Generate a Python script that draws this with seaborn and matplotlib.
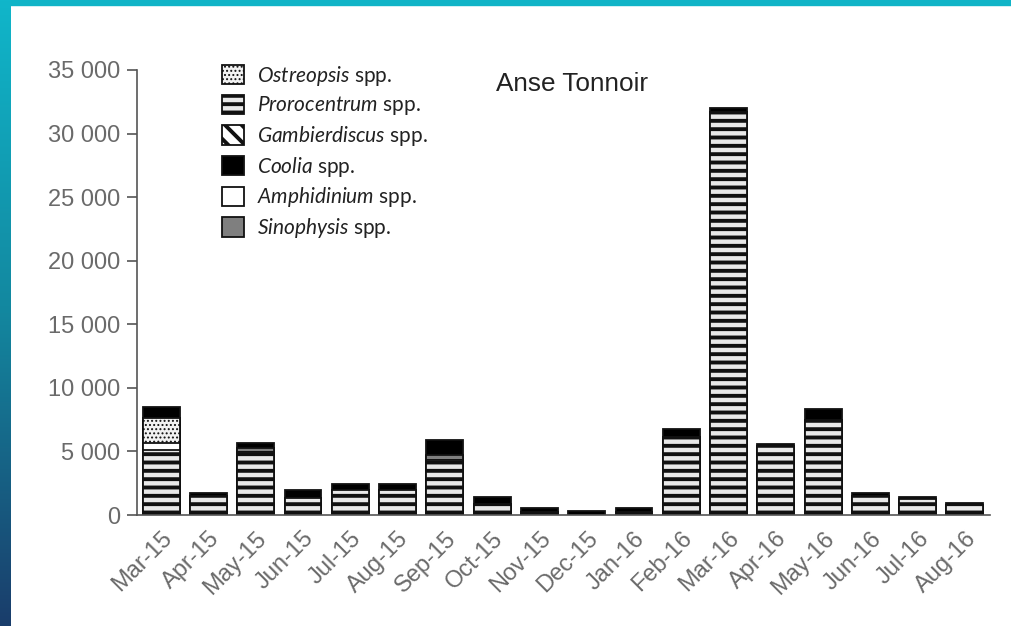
import numpy as np
import pandas as pd
import matplotlib
matplotlib.use("Agg")
import matplotlib.pyplot as plt
import seaborn as sns
from matplotlib.patches import Patch, Rectangle
from matplotlib.ticker import FuncFormatter, MultipleLocator
from matplotlib.colors import LinearSegmentedColormap

months = ["Mar-15", "Apr-15", "May-15", "Jun-15", "Jul-15", "Aug-15", "Sep-15",
          "Oct-15", "Nov-15", "Dec-15", "Jan-16", "Feb-16", "Mar-16", "Apr-16",
          "May-16", "Jun-16", "Jul-16", "Aug-16"]

prorocentrum   = [5100, 1500, 4950, 1350, 1950, 1950, 4300, 900, 250, 0, 250, 6100, 31700, 5400, 7450, 1500, 1250, 800]
amphidinium    = [550, 0, 0, 0, 0, 0, 0, 0, 0, 0, 0, 0, 0, 0, 0, 0, 0, 0]
ostreopsis     = [1970, 0, 0, 0, 0, 0, 0, 0, 0, 0, 0, 0, 0, 0, 0, 0, 0, 0]
gambierdiscus  = [0, 0, 0, 0, 0, 0, 0, 0, 0, 0, 0, 0, 0, 0, 0, 0, 0, 0]
sinophysis     = [0, 0, 350, 0, 0, 0, 400, 0, 0, 0, 0, 0, 0, 0, 0, 0, 0, 0]
coolia         = [870, 230, 360, 620, 490, 490, 1200, 500, 300, 300, 300, 700, 350, 180, 880, 230, 160, 140]

title = "Anse Tonnoir"

sns.set_style("white")
plt.rcParams["font.family"] = ["Liberation Sans", "DejaVu Sans"]
plt.rcParams["mathtext.fontset"] = "custom"
plt.rcParams["mathtext.it"] = "Lato:italic"
plt.rcParams["mathtext.rm"] = "Lato"
plt.rcParams["hatch.linewidth"] = 2.8

fig = plt.figure(figsize=(10.12, 6.26), dpi=100)
fig.patch.set_facecolor("white")

# frame decoration
fig.add_artist(Rectangle((0, 1 - 5 / 626), 1, 5 / 626, transform=fig.transFigure,
                         color="#10b4c7", zorder=0))
gax = fig.add_axes([0, 0, 11 / 1012, 1])
grad = np.linspace(0, 1, 256).reshape(-1, 1)
cmap = LinearSegmentedColormap.from_list("g", ["#10b6ca", "#13879f", "#1a3d6b"])
gax.imshow(grad, aspect="auto", cmap=cmap)
gax.axis("off")

ax = fig.add_axes([137 / 1012, 1 - 515 / 626, (990 - 137) / 1012, (515 - 70) / 626])

DOT_FACE = "#f2f2f2"
layers = [
    ("Prorocentrum", prorocentrum, "#e9e9e9", "--"),
    ("Amphidinium", amphidinium, "white", None),
    ("Ostreopsis", ostreopsis, DOT_FACE, "...."),
    ("Gambierdiscus", gambierdiscus, "white", "\\\\"),
    ("Sinophysis", sinophysis, "#7f7f7f", None),
    ("Coolia", coolia, "black", None),
]


def thin_hatch(patches, h):
    if h == "....":
        for p in patches:
            if hasattr(p, "set_hatch_linewidth"):
                p.set_hatch_linewidth(0.9)


cum = np.zeros(len(months))
cums = []
for name, vals, col, h in layers:
    cum = cum + np.array(vals, dtype=float)
    cums.append((name, cum.copy(), col, h))

for name, c, col, h in reversed(cums):
    df = pd.DataFrame({"month": months, "value": c})
    n_before = len(ax.patches)
    sns.barplot(data=df, x="month", y="value", order=months, color=col,
                saturation=1, width=0.78, edgecolor="#111111", linewidth=1.3,
                hatch=h, ax=ax, errorbar=None)
    thin_hatch(ax.patches[n_before:], h)

ax.set_xlim(-0.51, 17.53)
ax.set_ylim(0, 35000)
ax.yaxis.set_major_locator(MultipleLocator(5000))
ax.yaxis.set_major_formatter(FuncFormatter(lambda v, p: f"{int(v):,}".replace(",", " ")))
ax.set_xlabel("")
ax.set_ylabel("")
for s in ["top", "right"]:
    ax.spines[s].set_visible(False)
for s in ["left", "bottom"]:
    ax.spines[s].set_color("#555555")
    ax.spines[s].set_linewidth(1.2)
ax.tick_params(axis="y", direction="out", length=7, width=1.2, color="#555555",
               labelsize=17, labelcolor="#6a6a6a", pad=5, left=True)
ax.tick_params(axis="x", length=0, labelsize=17, labelcolor="#6a6a6a", pad=9)
for lab in ax.get_xticklabels():
    lab.set_rotation(45)
    lab.set_ha("right")
    lab.set_rotation_mode("anchor")

fig.text(572 / 1012, 1 - 84 / 626, title, ha="center", va="center",
         fontsize=18.8, color="#222222")

handles = [
    Patch(facecolor=DOT_FACE, edgecolor="#111111", hatch="....", linewidth=1.3),
    Patch(facecolor="#e9e9e9", edgecolor="#111111", hatch="--", linewidth=1.3),
    Patch(facecolor="white", edgecolor="#111111", hatch="\\\\", linewidth=1.3),
    Patch(facecolor="black", edgecolor="#111111", linewidth=1.3),
    Patch(facecolor="white", edgecolor="#111111", linewidth=1.3),
    Patch(facecolor="#7f7f7f", edgecolor="#111111", linewidth=1.3),
]
labels = [r"$\mathit{Ostreopsis}$ spp.", r"$\mathit{Prorocentrum}$ spp.",
          r"$\mathit{Gambierdiscus}$ spp.", r"$\mathit{Coolia}$ spp.",
          r"$\mathit{Amphidinium}$ spp.", r"$\mathit{Sinophysis}$ spp."]
leg = fig.legend(handles, labels, loc="upper left",
                 bbox_to_anchor=(203 / 1012, 1 - 45 / 626), frameon=False,
                 prop={"family": "Lato", "size": 15}, handlelength=1.05,
                 handleheight=1.05, labelspacing=0.32, handletextpad=0.65)
for t in leg.get_texts():
    t.set_color("#222222")
thin_hatch(leg.get_patches()[:1], "....")

fig.savefig("out.png", dpi=100, facecolor="white")
